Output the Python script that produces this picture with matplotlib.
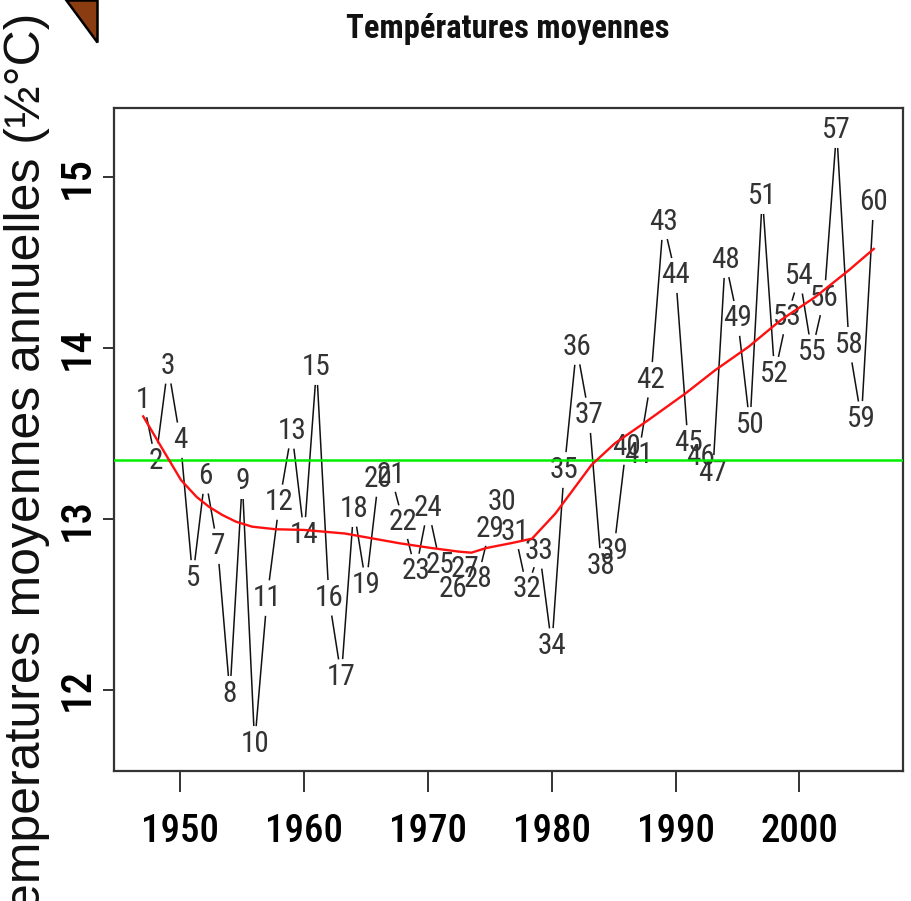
import os
import numpy as np
import matplotlib
matplotlib.use("Agg")
import matplotlib.pyplot as plt
from matplotlib import font_manager as fm
from matplotlib.font_manager import FontProperties
from matplotlib.collections import LineCollection
from matplotlib.patches import Polygon

# ---------------- data ----------------
years = list(range(1947, 2007))
temps = [13.696, 13.339, 13.895, 13.462, 12.655, 13.251, 12.842, 11.977, 13.222, 11.684,
         12.538, 13.099, 13.515, 12.906, 13.889, 12.538, 12.076, 13.058, 12.614, 13.234,
         13.257, 12.982, 12.696, 13.064, 12.731, 12.591, 12.708, 12.649, 12.942, 13.099,
         12.924, 12.591, 12.813, 12.257, 13.287, 14.006, 13.608, 12.725, 12.813, 13.421,
         13.374, 13.813, 14.737, 14.427, 13.444, 13.363, 13.269, 14.515, 14.175, 13.550,
         14.889, 13.848, 14.181, 14.421, 13.977, 14.292, 15.275, 14.018, 13.585, 14.854]
point_labels = [str(i) for i in range(1, len(temps) + 1)]

# red smoothed trend
trend_years = [1947.0, 1948.6, 1950.05, 1951.3, 1952.3, 1953.4, 1954.5, 1955.8, 1957.7,
               1960.0, 1963.3, 1967.7, 1970.3, 1972.5, 1973.5, 1974.7, 1976.8, 1978.4, 1980.3,
               1981.9, 1983.2, 1985.1, 1987.8, 1990.8, 1993.2, 1995.9, 1998.5, 2001.3, 2004.0,
               2006.0]
trend_vals = [13.60, 13.404, 13.228, 13.13, 13.072, 13.023, 12.984, 12.955, 12.94,
              12.936, 12.915, 12.858, 12.830, 12.809, 12.803, 12.83, 12.86, 12.885, 13.033,
              13.189, 13.316, 13.443, 13.579, 13.735, 13.871, 14.008, 14.164, 14.30, 14.456,
              14.58]

xtick_vals = [1950, 1960, 1970, 1980, 1990, 2000]
xtick_labels = ["1950", "1960", "1970", "1980", "1990", "2000"]
ytick_vals = [12, 13, 14, 15]
ytick_labels = ["12", "13", "14", "15"]
title = "Températures moyennes"
ylabel = "Temperatures moyennes annuelles (½°C)"


# ---------------- helpers ----------------
def find_font(cands):
    files = {os.path.basename(f.fname).lower(): f.fname for f in fm.fontManager.ttflist}
    for c in cands:
        if c.lower() in files:
            return files[c.lower()]
    return None


def fp(path, family, size, weight="normal"):
    if path:
        return FontProperties(fname=path, size=size)
    return FontProperties(family=family, size=size, weight=weight)


narrow_reg = find_font(["LiberationSansNarrow-Regular.ttf", "RobotoCondensed-Regular.ttf",
                        "DejaVuSansCondensed.ttf"])
narrow_med = find_font(["RobotoCondensed-Medium.ttf", "LiberationSansNarrow-Regular.ttf",
                        "RobotoCondensed-Regular.ttf", "DejaVuSansCondensed.ttf"])
narrow_bold = find_font(["LiberationSansNarrow-Bold.ttf", "RobotoCondensed-Bold.ttf",
                         "DejaVuSansCondensed-Bold.ttf"])

# ---------------- figure ----------------
W, H = 912, 901
fig = plt.figure(figsize=(W / 100, H / 100), dpi=100)
fig.patch.set_facecolor("white")
L, R, T, B = 114, 903, 108, 771
ax = fig.add_axes([L / W, 1 - B / H, (R - L) / W, (B - T) / H])
ax.set_xlim(1944.64, 2008.36)
ax.set_ylim(11.526, 15.404)

for s in ax.spines.values():
    s.set_color("#333333")
    s.set_linewidth(1.6)

# lines with gaps around the labels (R type = "c")
pts = ax.transData.transform(np.column_stack([years, temps]))
rx, ry = 12.0, 18.0
segs = []
for p, q in zip(pts[:-1], pts[1:]):
    d = q - p
    ln = np.hypot(d[0], d[1])
    u = d / ln
    t = 1.0 / np.sqrt((u[0] / rx) ** 2 + (u[1] / ry) ** 2)
    if ln > 2 * t:
        segs.append(ax.transData.inverted().transform(np.array([p + u * t, q - u * t])))
ax.add_collection(LineCollection(segs, colors="#111111", linewidths=1.1, zorder=2))

lab_fp = fp(narrow_reg, "Liberation Sans", 21)
for xv, yv, lab in zip(years, temps, point_labels):
    ax.text(xv, yv, lab, ha="center", va="center", color="#333333",
            fontproperties=lab_fp, zorder=3)

ax.axhline(np.mean(temps), color="#00ee00", linewidth=1.8, zorder=4)
ax.plot(trend_years, trend_vals, color="#ff1010", linewidth=1.7, zorder=5)

# axes ticks
ax.set_xticks(xtick_vals)
ax.set_xticklabels(xtick_labels, fontproperties=fp(narrow_med, "Liberation Sans", 28))
ax.set_yticks(ytick_vals)
ax.set_yticklabels(ytick_labels, fontproperties=fp(narrow_med, "Liberation Sans", 31))
ax.tick_params(axis="x", length=15, width=1.4, color="#333333", pad=15)
ax.tick_params(axis="y", length=8, width=1.4, color="#333333", pad=10)
for lbl in ax.get_yticklabels():
    lbl.set_rotation(90)
    lbl.set_rotation_mode("anchor")
    lbl.set_ha("center")
    lbl.set_va("baseline")

# title and y label
fig.text(508 / W, 1 - 38 / H, title, ha="center", va="baseline",
         fontproperties=fp(narrow_bold, "Liberation Sans", 23.5, "bold"), color="#111111")
fig.text(40 / W, 1 - 13 / H, ylabel, rotation=90, rotation_mode="anchor",
         ha="right", va="baseline", family="Liberation Sans", fontsize=36.0, color="#111111")

# decorative brown triangle (slide ornament)
fig.patches.append(Polygon([(66 / W, 1.0), (97 / W, 1.0), (97 / W, 1 - 42 / H)],
                           closed=True, transform=fig.transFigure, facecolor="#8b3c10",
                           edgecolor="black", linewidth=1.8, figure=fig))

fig.savefig("out.png", dpi=100)
